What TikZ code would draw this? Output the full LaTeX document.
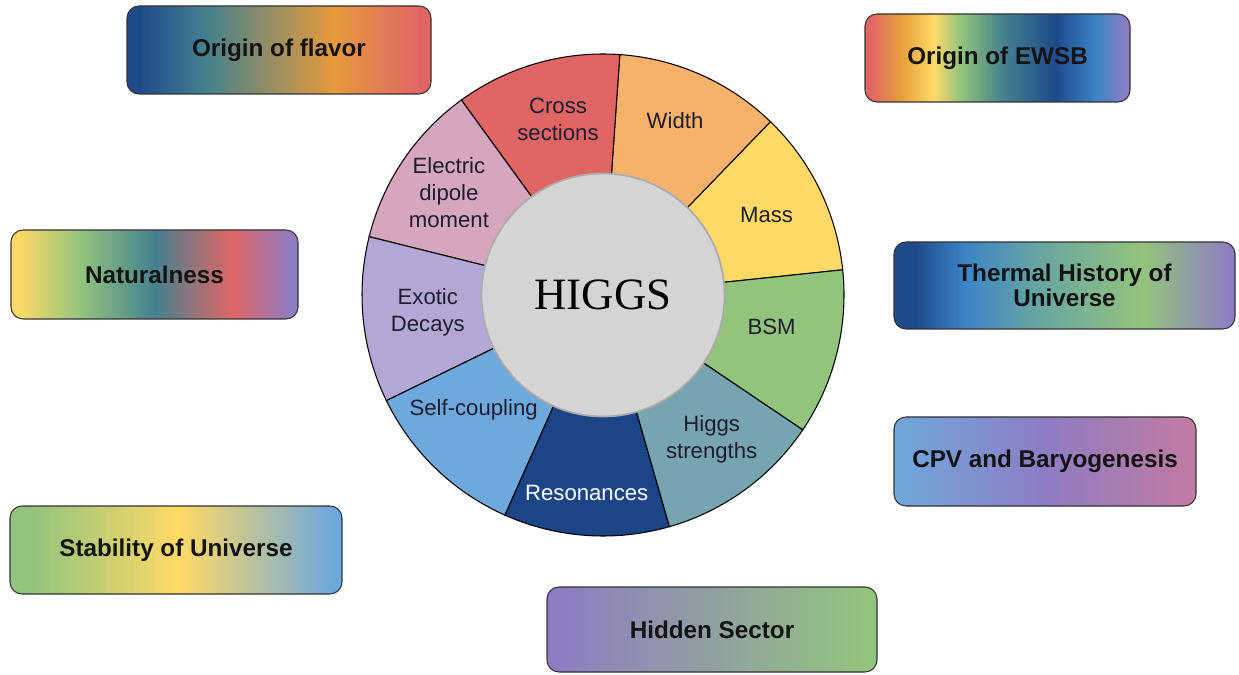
\documentclass[tikz,border=0pt]{standalone}
\usepackage{fontspec}
\setmainfont{Liberation Sans}
\newfontfamily\higgsfont{Liberation Serif}

\definecolor{cMass}{HTML}{FFD966}
\definecolor{cWidth}{HTML}{F6B26B}
\definecolor{cCross}{HTML}{E06666}
\definecolor{cEdm}{HTML}{D5A6BD}
\definecolor{cExotic}{HTML}{B4A7D6}
\definecolor{cSelf}{HTML}{6FA8DC}
\definecolor{cReson}{HTML}{1C4587}
\definecolor{cStrength}{HTML}{76A5AF}
\definecolor{cBsm}{HTML}{93C47D}
\definecolor{cCore}{HTML}{D4D4D4}
\definecolor{cCoreLine}{HTML}{ABABAB}
\definecolor{cLabel}{HTML}{1E1E30}
\definecolor{cDkBlue}{HTML}{1F4A8C}
\definecolor{cBlue}{HTML}{3D85C6}
\definecolor{cTeal}{HTML}{45818E}
\definecolor{cCyan}{HTML}{68A4A2}
\definecolor{cOrange}{HTML}{E69A3C}
\definecolor{cRed}{HTML}{E06666}
\definecolor{cYellow}{HTML}{FFD966}
\definecolor{cGreen}{HTML}{93C47D}
\definecolor{cPurple}{HTML}{8E7CC3}
\definecolor{cPink}{HTML}{C27BA0}
\definecolor{cLtBlue}{HTML}{6FA8DC}

\pgfdeclarehorizontalshading{flavorshade}{100bp}{color(0bp)=(cDkBlue); color(27bp)=(cDkBlue); color(38bp)=(cTeal); color(59bp)=(cOrange); color(73bp)=(cRed); color(100bp)=(cRed)}
\pgfdeclarehorizontalshading{ewsbshade}{100bp}{color(0bp)=(cRed); color(26bp)=(cRed); color(31.5bp)=(cOrange); color(38bp)=(cYellow); color(43bp)=(cGreen); color(51bp)=(cTeal); color(61bp)=(cDkBlue); color(68.5bp)=(cBlue); color(74.5bp)=(cPurple); color(100bp)=(cPurple)}
\pgfdeclarehorizontalshading{naturalshade}{100bp}{color(0bp)=(cYellow); color(26bp)=(cYellow); color(37bp)=(cGreen); color(50bp)=(cTeal); color(63.5bp)=(cRed); color(74bp)=(cPurple); color(100bp)=(cPurple)}
\pgfdeclarehorizontalshading{thermalshade}{100bp}{color(0bp)=(cDkBlue); color(28bp)=(cDkBlue); color(35.5bp)=(cBlue); color(46bp)=(cCyan); color(61.5bp)=(cGreen); color(74.5bp)=(cPurple); color(100bp)=(cPurple)}
\pgfdeclarehorizontalshading{cpvshade}{100bp}{color(0bp)=(cLtBlue); color(25bp)=(cLtBlue); color(50bp)=(cPurple); color(75bp)=(cPink); color(100bp)=(cPink)}
\pgfdeclarehorizontalshading{stabilityshade}{100bp}{color(0bp)=(cGreen); color(28.5bp)=(cGreen); color(50.5bp)=(cYellow); color(73.5bp)=(cLtBlue); color(100bp)=(cLtBlue)}
\pgfdeclarehorizontalshading{hiddenshade}{100bp}{color(0bp)=(cPurple); color(26.5bp)=(cPurple); color(73.5bp)=(cGreen); color(100bp)=(cGreen)}

\begin{document}
\begin{tikzpicture}[line width=0.6pt, box/.style={draw=black!80, shade, rounded corners=0.24cm, minimum height=1.76cm, align=center, text=black!92, font=\fontsize{13.8}{14.6}\selectfont\bfseries}]
\useasboundingbox (0,0) rectangle (24.78,13.48);
\coordinate(o) at (12.06,7.58);

\foreach \a/\c in {6/cMass,46/cWidth,86/cCross,126/cEdm,166/cExotic,206/cSelf,246/cReson,286/cStrength,326/cBsm}
   \draw[fill=\c] (o) -- ++(\a:4.82) arc[start angle=\a, delta angle=40, radius=4.82] -- cycle;
\draw[fill=cCore, draw=cCoreLine, line width=1pt] (o) circle (2.43);
\node[text=black] (higgs) at (o) {\higgsfont\fontsize{25.5}{30}\selectfont HIGGS};

   \begin{scope}[every node/.style={align=center, text=cLabel, font=\fontsize{12.6}{15.4}\selectfont}]
\node (cross)  at ([shift={(104.4:3.62)}]o) {Cross\\sections};
\node (width)  at ([shift={(67.6:3.78)}]o)  {Width};
\node (mass)   at ([shift={(26:3.64)}]o)    {Mass};
\node (bsm)    at ([shift={(-10.6:3.43)}]o) {BSM};
\node (hstr)   at ([shift={(-53.1:3.62)}]o) {Higgs\\strengths};
\node [text=white] (reson) at ([shift={(265.3:3.98)}]o) {Resonances};
\node (selfc)  at ([shift={(221.6:3.46)}]o) {Self-coupling};
\node (exotic) at ([shift={(185.5:3.52)}]o) {Exotic\\Decays};
\node (edm)    at ([shift={(146.4:3.70)}]o) {Electric\\dipole\\moment};
  \end{scope}

\node[box, shading=flavorshade, minimum width=6.08cm] (flavor) at (5.58,12.48) {Origin of flavor};
\node[box, shading=ewsbshade, minimum width=5.30cm] (ewsb) at (19.95,12.32) {Origin of EWSB};
\node[box, shading=naturalshade, minimum width=5.74cm, minimum height=1.78cm] (natural) at (3.09,7.99) {Naturalness};
\node[box, shading=thermalshade, minimum width=6.82cm, minimum height=1.74cm] (thermal) at (21.29,7.77) {Thermal History of\\Universe};
\node[box, shading=cpvshade, minimum width=6.04cm, minimum height=1.78cm] (cpv) at (20.90,4.25) {CPV and Baryogenesis};
\node[box, shading=stabilityshade, minimum width=6.64cm] (stability) at (3.52,2.48) {Stability of Universe};
\node[box, shading=hiddenshade, minimum width=6.60cm, minimum height=1.70cm] (hidden) at (14.24,0.89) {Hidden Sector};
\end{tikzpicture}
\end{document}
